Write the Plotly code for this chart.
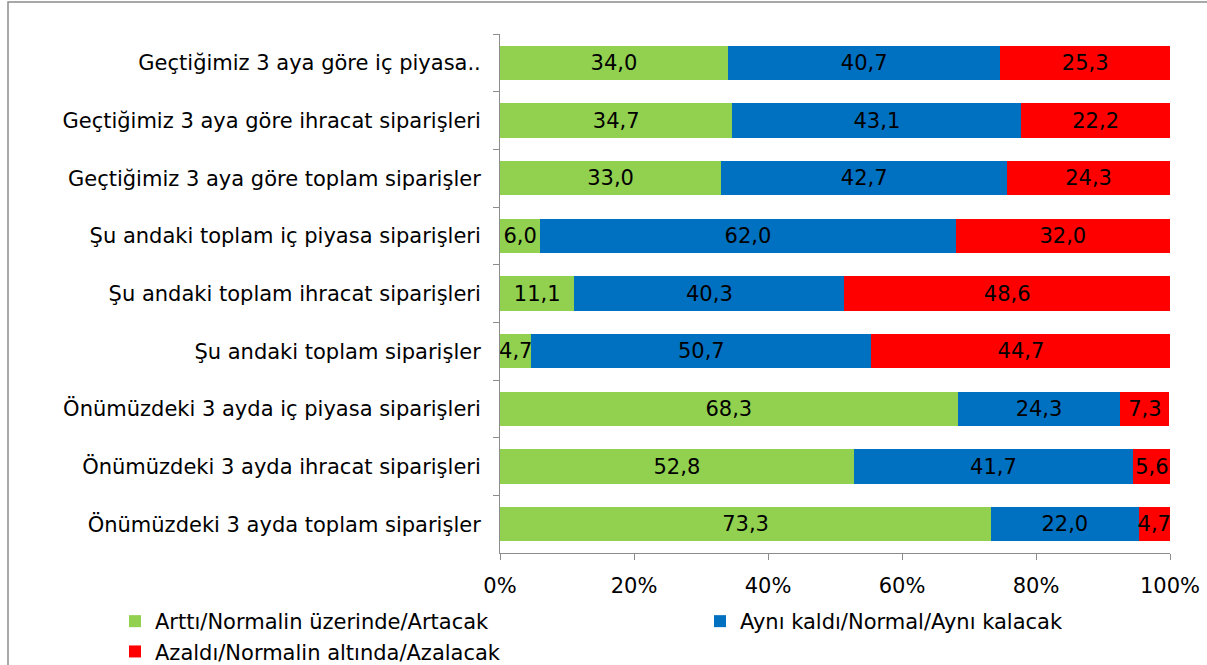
import plotly.graph_objects as go

categories = [
    "Geçtiğimiz 3 aya göre iç piyasa..",
    "Geçtiğimiz 3 aya göre ihracat siparişleri",
    "Geçtiğimiz 3 aya göre toplam siparişler",
    "Şu andaki toplam iç piyasa siparişleri",
    "Şu andaki toplam ihracat siparişleri",
    "Şu andaki toplam siparişler",
    "Önümüzdeki 3 ayda iç piyasa siparişleri",
    "Önümüzdeki 3 ayda ihracat siparişleri",
    "Önümüzdeki 3 ayda toplam siparişler",
]
artti = [34.0, 34.7, 33.0, 6.0, 11.1, 4.7, 68.3, 52.8, 73.3]
ayni = [40.7, 43.1, 42.7, 62.0, 40.3, 50.7, 24.3, 41.7, 22.0]
azaldi = [25.3, 22.2, 24.3, 32.0, 48.6, 44.7, 7.3, 5.6, 4.7]
series_names = ["Arttı/Normalin üzerinde/Artacak", "Aynı kaldı/Normal/Aynı kalacak",
                "Azaldı/Normalin altında/Azalacak"]
colors = ["#92D050", "#0070C0", "#FF0000"]
legend_ids = ["legend", "legend2", "legend"]
tick_vals = [0, 20, 40, 60, 80, 100]
tick_text = ["0%", "20%", "40%", "60%", "80%", "100%"]

FONT = "DejaVu Sans"
FS = 21
fig = go.Figure()
for name, vals, col, lg in zip(series_names, [artti, ayni, azaldi], colors, legend_ids):
    fig.add_trace(go.Bar(
        y=categories, x=vals, name=name, orientation="h", legend=lg,
        marker=dict(color=col, line=dict(width=0)),
        texttemplate="%{x:.1f}", textposition="inside", insidetextanchor="middle",
        textangle=0, textfont=dict(color="black", size=FS, family=FONT),
    ))

FW, FH = 1207, 665
# plot area in screen px: x 500..1170, y 34..553
L, R, T, B = 500, 1170, 34, 553
W, H = R - L, B - T
def px(x):
    return (x - L) / W
def py(y):
    return (B - y) / H

leg_common = dict(orientation="v", xanchor="left", yanchor="top",
                  font=dict(size=FS, family=FONT), itemwidth=30,
                  bgcolor="rgba(0,0,0,0)", tracegroupgap=0, traceorder="normal")

fig.update_layout(
    barmode="stack", bargap=0.41,
    separators=",.",
    width=FW, height=FH,
    margin=dict(l=L, r=FW - R, t=T, b=FH - B, autoexpand=False),
    paper_bgcolor="white", plot_bgcolor="white",
    font=dict(family=FONT, size=FS, color="black"),
    uniformtext=dict(minsize=FS, mode="show"),
    showlegend=True,
    legend=dict(x=px(115), y=py(601), **leg_common),
    legend2=dict(x=px(700), y=py(601), **leg_common),
    xaxis=dict(range=[0, 100], tickvals=tick_vals, ticktext=tick_text, automargin=False,
               showgrid=False, zeroline=False, showline=True, linecolor="#8C8C8C",
               linewidth=1, ticks="outside", ticklen=6, tickcolor="#8C8C8C",
               ticklabelstandoff=8,
               tickfont=dict(size=FS, family=FONT)),
    yaxis=dict(autorange="reversed", showline=True, linecolor="#8C8C8C", linewidth=1,
               automargin=False, ticklabelstandoff=14,
               ticks="outside", tickson="boundaries", ticklen=6, tickcolor="#8C8C8C",
               showgrid=False, tickfont=dict(size=FS, family=FONT)),
    shapes=[dict(type="rect", xref="paper", yref="paper",
                 x0=px(8), x1=px(1230), y0=py(700), y1=py(2),
                 line=dict(color="#8C8C8C", width=1.5), fillcolor="rgba(0,0,0,0)",
                 layer="below")],
)

fig.write_html("out.html", config={"displayModeBar": False},
               post_script="document.body.style.margin='0';document.body.style.overflow='hidden';")
